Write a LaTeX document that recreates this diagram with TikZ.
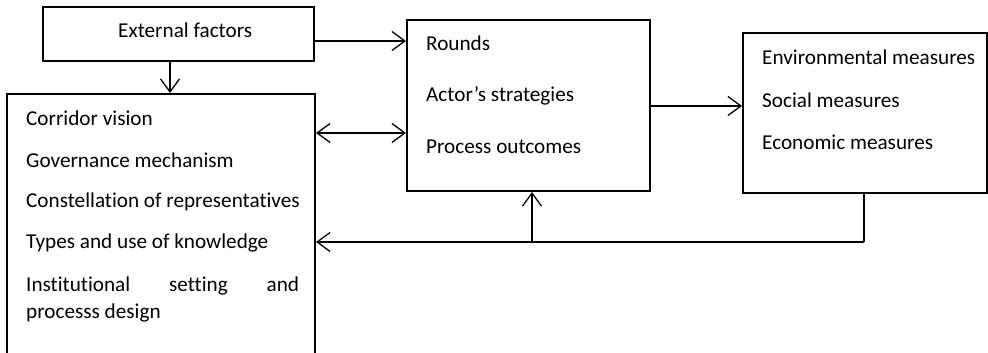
\documentclass[tikz,border=0pt]{standalone}
\usepackage{fontspec}
\setmainfont{Carlito}[Ligatures=NoCommon]
\usetikzlibrary{arrows.meta}
\begin{document}
\begin{tikzpicture}[x=1pt,y=-1pt,
  box/.style={draw,line width=2pt,rectangle,inner sep=0pt},
  lbl/.style={anchor=west,inner sep=0pt,font=\fontsize{21.2}{27}\selectfont},
  conn/.style={line width=1.3pt},
  arr/.style={conn,-{Straight Barb[length=13pt,width=19pt,line width=1.3pt]}},
  darr/.style={conn,{Straight Barb[length=13pt,width=19pt,line width=1.3pt]}-{Straight Barb[length=13pt,width=19pt,line width=1.3pt]}}]
\useasboundingbox (0,0) rectangle (988,353);
\clip (0,0) rectangle (988,353);
% boxes
\node[box,minimum width=271pt,minimum height=54pt] (ext) at (178.5,34) {};
\node[box,minimum width=308pt,minimum height=266pt] (left) at (161,227) {};
\node[box,minimum width=243pt,minimum height=171pt] (mid) at (528.5,105.5) {};
\node[box,minimum width=244pt,minimum height=160pt] (right) at (865,113) {};
% texts
\node[lbl] (t0) at (118,30) {External factors};
\node[lbl] (l1) at (26,118) {Corridor vision};
\node[lbl] (l2) at (26,160) {Governance mechanism};
\node[lbl] (l3) at (26,202) {Constellation of representatives};
\node[lbl] (l4) at (26,243) {Types and use of knowledge};
\node[lbl,anchor=north west,text width=273pt,align=justify] (l5) at (26,277) {Institutional setting and\linebreak processs design};
\node[lbl] (m1) at (426,43) {Rounds};
\node[lbl] (m2) at (426,96) {Actor’s strategies};
\node[lbl] (m3) at (426,147) {Process outcomes};
\node[lbl] (r1) at (762,57) {Environmental measures};
\node[lbl] (r2) at (762,100) {Social measures};
\node[lbl] (r3) at (762,142) {Economic measures};
% connectors
\coordinate (fb) at (864,242);
\coordinate (br) at (532,242);
\draw[arr] (ext.east |- 0,41) -- (mid.west |- 0,41);
\draw[arr] (ext.south -| 170,0) -- (left.north -| 170,0);
\draw[darr] (left.east |- 0,133) -- (mid.west |- 0,133);
\draw[arr] (mid.east |- 0,106) -- (right.west |- 0,106);
\draw[conn] (right.south -| fb) -- (fb);
\draw[arr] (fb) -- (left.east |- fb);
\draw[arr] (br) -- (mid.south -| br);
\end{tikzpicture}
\end{document}
